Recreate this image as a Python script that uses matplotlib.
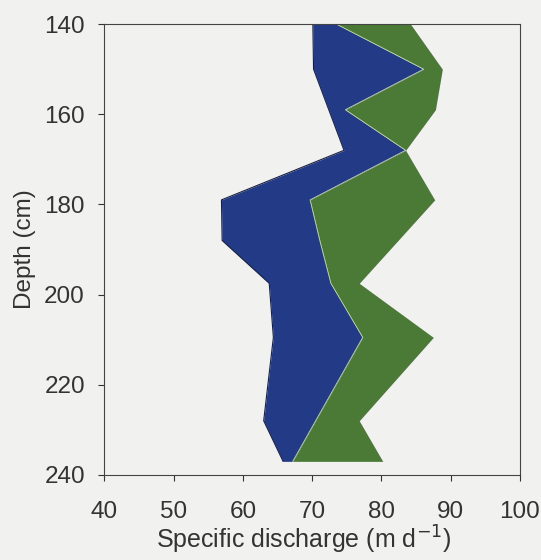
import matplotlib
matplotlib.use("Agg")
import matplotlib.pyplot as plt
import numpy as np

# depth of each profile vertex (cm)
depth = [140, 150, 159, 168, 179, 188, 197.5, 209.5, 228, 237]
# left edge of the blue band, blue/green boundary, right edge of green band (m/d)
left_edge = [70.1, 70.2, 72.4, 74.6, 56.9, 57.0, 63.8, 64.4, 63.0, 65.8]
mid_edge = [73.5, 86.1, 74.8, 83.5, 69.7, 71.1, 72.7, 77.3, 70.5, 67.2]
right_edge = [84.2, 88.8, 87.8, 83.5, 87.7, 82.4, 76.8, 87.5, 76.8, 80.2]

xticks = [40, 50, 60, 70, 80, 90, 100]
yticks = [140, 160, 180, 200, 220, 240]

bg = '#f1f1f0'
blue = '#233a87'
green = '#4a7a35'

plt.rcParams['font.family'] = ['Liberation Sans', 'DejaVu Sans']

fig = plt.figure(figsize=(5.41, 5.6), dpi=100, facecolor=bg)
ax = fig.add_axes([0.193, 0.152, 0.768, 0.805], facecolor=bg)

d = np.array(depth)
ax.fill_betweenx(d, left_edge, mid_edge, color=blue, lw=0)
ax.fill_betweenx(d, mid_edge, right_edge, color=green, lw=0)
ax.plot(left_edge, d, color='#1a1f3a', lw=0.8)
ax.plot(mid_edge, d, color='#c8d8c0', lw=0.6)

ax.set_xlim(40, 100)
ax.set_ylim(240, 140)
ax.set_xticks(xticks)
ax.set_yticks(yticks)
ax.tick_params(direction='out', length=4, width=0.8, labelsize=17.5, colors='#333333')
ax.tick_params(axis='y', pad=10)
ax.tick_params(axis='x', pad=15)
for s in ax.spines.values():
    s.set_color('#444444')
    s.set_linewidth(0.8)

ax.set_xlabel('Specific discharge (m d$^{-1}$)', fontsize=18, color='#333333')
ax.xaxis.set_label_coords(0.48, -0.108)
ax.set_ylabel('Depth (cm)', fontsize=17.5, color='#333333', labelpad=6)

fig.savefig('out.png', dpi=100, facecolor=bg)
